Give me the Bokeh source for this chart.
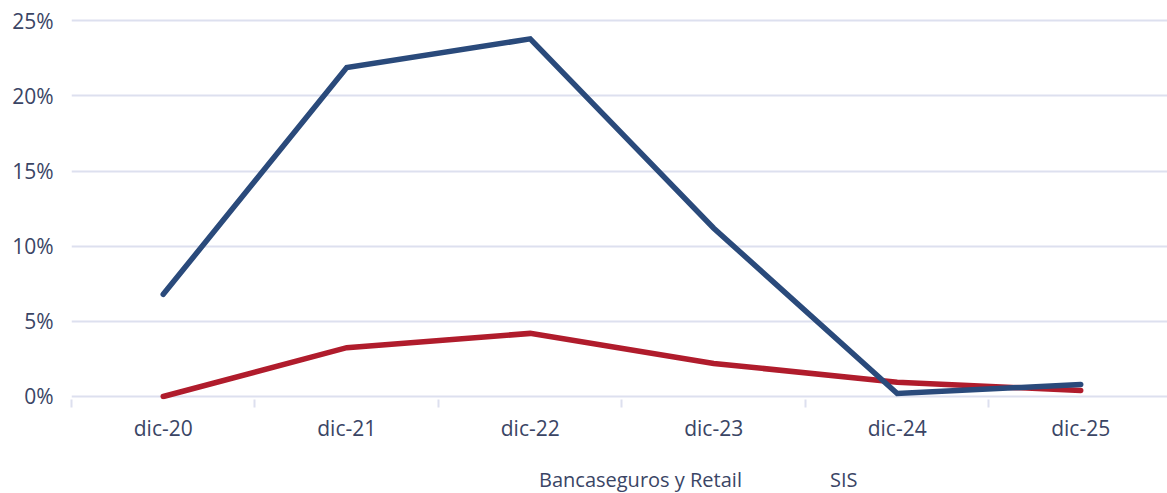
from bokeh.plotting import figure
from bokeh.layouts import column
from bokeh.models import FixedTicker, Range1d, Legend, LegendItem, ColumnDataSource
from bokeh.embed import file_html
from bokeh.resources import INLINE

categories = ["dic-20", "dic-21", "dic-22", "dic-23", "dic-24", "dic-25"]
bancaseguros = [0.0, 3.25, 4.2, 2.2, 0.95, 0.4]
sis = [6.8, 21.9, 23.8, 11.2, 0.2, 0.8]
y_ticks = [0, 5, 10, 15, 20, 25]
series_names = ["Bancaseguros y Retail", "SIS"]

FONT = "Open Sans"
TXT = "#3a4565"
GRID = "#dde0ef"
RED = "#b01c2c"
BLUE = "#2a4a7b"

xs = [i + 0.5 for i in range(len(categories))]
src = ColumnDataSource(dict(x=xs, banca=bancaseguros, sis=sis))

p = figure(width=1167, height=444, output_backend="svg", toolbar_location=None,
           x_range=Range1d(0, 5.973), y_range=Range1d(-0.2, 25.69),
           min_border_left=71, min_border_right=0, min_border_top=10, min_border_bottom=0,
           outline_line_color=None, background_fill_color="white", border_fill_color="white")

r1 = p.line("x", "banca", source=src, line_color=RED, line_width=5.5, line_cap="round", line_join="miter")
r2 = p.line("x", "sis", source=src, line_color=BLUE, line_width=5.5, line_cap="round", line_join="miter")

# x axis
xa = p.xaxis[0]
xa.ticker = FixedTicker(ticks=xs, minor_ticks=list(range(0, 7)))
xa.major_label_overrides = {x: c for x, c in zip(xs, categories)}
xa.axis_line_color = None
xa.major_tick_line_color = None
xa.major_tick_out = 0
xa.major_tick_in = 0
xa.minor_tick_line_color = GRID
xa.minor_tick_line_width = 2
xa.minor_tick_out = 8
xa.minor_tick_in = 0
xa.major_label_text_font = FONT
xa.major_label_text_font_size = "21px"
xa.major_label_text_color = TXT
xa.major_label_standoff = 6

ya = p.yaxis[0]
ya.ticker = FixedTicker(ticks=y_ticks)
ya.major_label_overrides = {t: f"{t}%" for t in y_ticks}
ya.axis_line_color = None
ya.major_tick_line_color = None
ya.major_tick_out = 0
ya.major_tick_in = 0
ya.minor_tick_line_color = None
ya.major_label_text_font = FONT
ya.major_label_text_font_size = "21px"
ya.major_label_text_color = TXT
ya.major_label_standoff = 18

p.xgrid.grid_line_color = None
p.ygrid.grid_line_color = GRID
p.ygrid.grid_line_width = 2

# legend strip
p2 = figure(width=1167, height=49, output_backend="svg", toolbar_location=None,
            x_range=Range1d(0, 1), y_range=Range1d(0, 1),
            x_axis_type=None, y_axis_type=None,
            min_border_left=0, min_border_right=0, min_border_top=0, min_border_bottom=0,
            outline_line_color=None, background_fill_color="white", border_fill_color="white")
p2.grid.visible = False
l1 = p2.line(x=[], y=[], line_color=RED, line_width=5.5, line_cap="round")
l2 = p2.line(x=[], y=[], line_color=BLUE, line_width=5.5, line_cap="round")

legend = Legend(items=[LegendItem(label=series_names[0], renderers=[l1]),
                       LegendItem(label=series_names[1], renderers=[l2])],
                orientation="horizontal", location=(410, 0),
                label_text_font=FONT, label_text_font_size="20px", label_text_color=TXT,
                glyph_width=55, glyph_height=20, label_standoff=3, spacing=30,
                border_line_color=None, background_fill_alpha=0, padding=0, margin=0)
p2.add_layout(legend, "center")

layout = column(p, p2, spacing=0)
open("out.html", "w").write(file_html(layout, INLINE))
